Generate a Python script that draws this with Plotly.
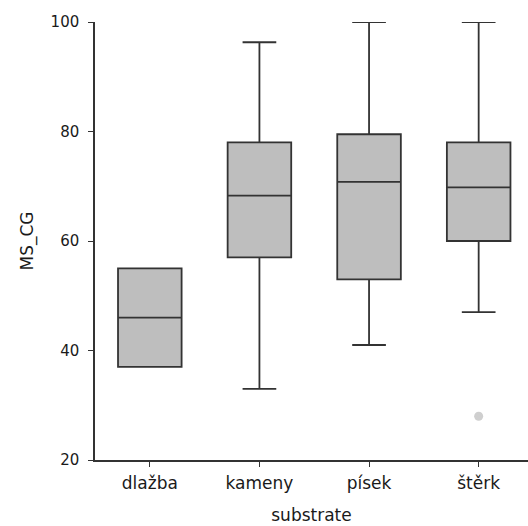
import plotly.graph_objects as go

# Substrate categories and their box-plot summary statistics for MS_CG
substrates = ["dlažba", "kameny", "písek", "štěrk"]
lower_whisker = [37, 33, 41, 47]
q1 = [37, 57, 53, 60]
median = [46, 68.3, 70.8, 69.8]
q3 = [55, 78, 79.5, 78]
upper_whisker = [55, 96.3, 100, 100]

# Outlying observations beyond the whiskers
outlier_substrate = ["štěrk"]
outlier_value = [28]

fig = go.Figure()

fig.add_trace(go.Box(
    x=substrates,
    q1=q1,
    median=median,
    q3=q3,
    lowerfence=lower_whisker,
    upperfence=upper_whisker,
    fillcolor="#bebebe",
    line=dict(color="#333333", width=1.8),
    whiskerwidth=0.53,
    width=0.58,
    boxpoints=False,
    showlegend=False,
))

fig.add_trace(go.Scatter(
    x=outlier_substrate,
    y=outlier_value,
    mode="markers",
    marker=dict(color="#cfcfcf", size=9),
    showlegend=False,
))

family = "DejaVu Sans, Verdana, sans-serif"
ytick_font = dict(family=family, size=15, color="#1a1a1a")
xtick_font = dict(family=family, size=17, color="#1a1a1a")
title_font = dict(family=family, size=17, color="#1a1a1a")

fig.update_layout(
    width=528,
    height=526,
    margin=dict(l=95, r=0, t=22, b=66),
    plot_bgcolor="white",
    paper_bgcolor="white",
    font=dict(family=family),
    xaxis=dict(
        title=dict(text="substrate", standoff=17, font=title_font),
        type="category",
        categoryorder="array",
        categoryarray=substrates,
        range=[-0.5, 3.45],
        showline=True,
        linecolor="#333333",
        linewidth=1.5,
        ticks="outside",
        ticklen=5,
        tickcolor="#333333",
        ticklabelstandoff=2,
        showgrid=False,
        zeroline=False,
        tickfont=xtick_font,
    ),
    yaxis=dict(
        title=dict(text="MS_CG", standoff=13, font=title_font),
        range=[20, 100],
        tickvals=[20, 40, 60, 80, 100],
        showline=True,
        linecolor="#333333",
        linewidth=1.5,
        ticks="outside",
        ticklen=5,
        tickcolor="#333333",
        ticklabelstandoff=6,
        showgrid=False,
        zeroline=False,
        tickfont=ytick_font,
    ),
)

fig.write_html("out.html")
